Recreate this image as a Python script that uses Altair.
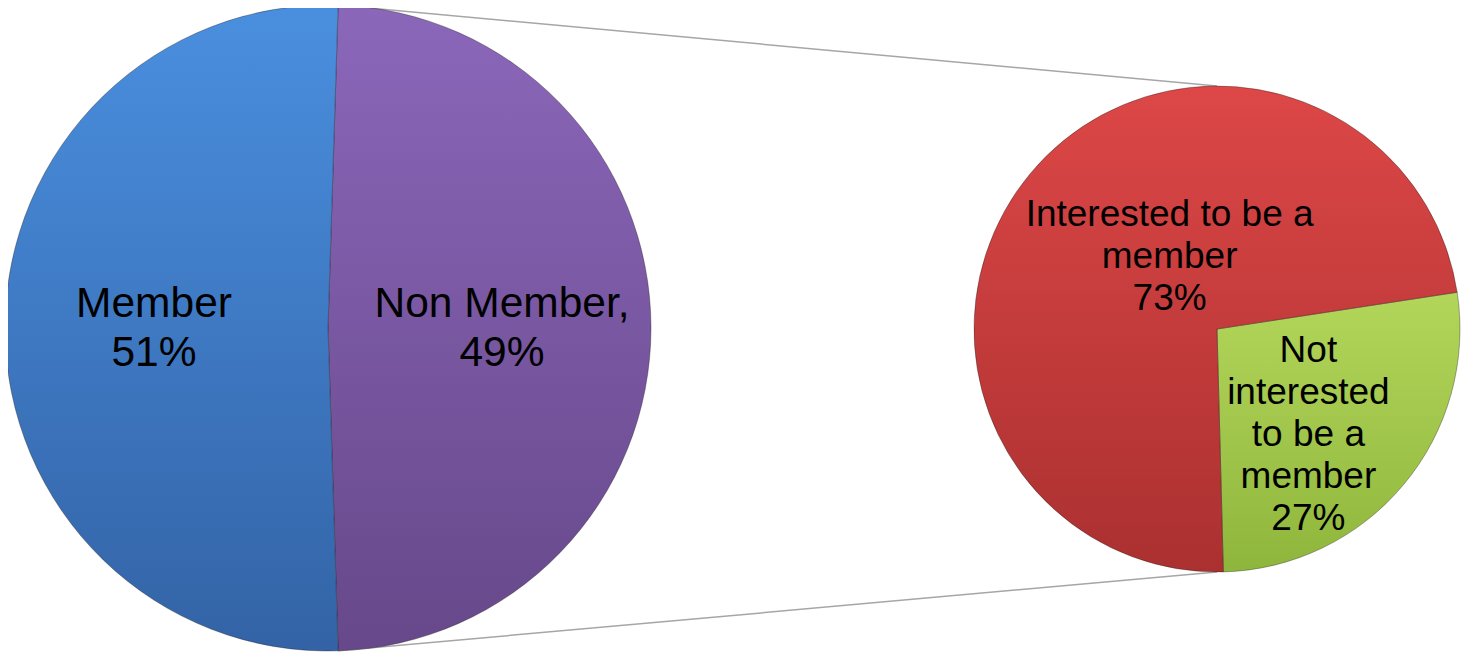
import math
import altair as alt
import pandas as pd

# ---------------- data ----------------
main_categories = ["Non Member", "Member"]
main_values = [49, 51]
main_labels = ["Non Member,\n49%", "Member\n51%"]

sub_categories = ["Not interested to be a member", "Interested to be a member"]
sub_values = [27, 73]
sub_labels = ["Not\ninterested\nto be a\nmember\n27%", "Interested to be a\nmember\n73%"]

# ---------------- layout ----------------
W, H = 1454, 648
L_CX, L_CY, L_R = 320, 320, 323
R_CX, R_CY, R_R = 1209, 321, 243
R_START_DEG = 81.3
FONT = "Liberation Sans"

main_df = pd.DataFrame({"cat": main_categories, "val": main_values,
                        "label": main_labels, "ord": list(range(len(main_values)))})
sub_df = pd.DataFrame({"cat": sub_categories, "val": sub_values,
                       "label": sub_labels, "ord": list(range(len(sub_values)))})

# split slice of the main pie is centred on 3 o'clock
split_share = main_values[0] / sum(main_values)
l_start_deg = 90 - split_share * 180
l_start = math.radians(l_start_deg)
r_start = math.radians(R_START_DEG)


def grad(c0, c1):
    return {"gradient": "linear", "x1": 0, "y1": 0, "x2": 0, "y2": 1,
            "stops": [{"offset": 0, "color": c0}, {"offset": 1, "color": c1}]}


gradients = {
    "Member": grad("#4a8fdf", "#3363a6"),
    "Non Member": grad("#8b67ba", "#67488a"),
    "Interested to be a member": grad("#dd4747", "#ab3030"),
    "Not interested to be a member": grad("#b2d65a", "#8fb63c"),
}

cats = list(gradients.keys())
fill_enc = alt.when(alt.datum.cat == cats[0]).then(alt.value(gradients[cats[0]]))
for c in cats[1:-1]:
    fill_enc = fill_enc.when(alt.datum.cat == c).then(alt.value(gradients[c]))
fill_enc = fill_enc.otherwise(alt.value(gradients[cats[-1]]))


def theta_enc(start):
    return alt.Theta("val:Q", stack=True,
                     scale=alt.Scale(range=[start, start + 2 * math.pi]))


def pie(df, cx, cy, r, start):
    return alt.Chart(df).mark_arc(
        outerRadius=r, stroke="#1a1a1a", strokeOpacity=0.35, strokeWidth=1
    ).encode(
        theta=theta_enc(start),
        order=alt.Order("ord:Q"),
        x=alt.value(cx), y=alt.value(cy),
        fill=fill_enc,
    )


def labels(df, cx, cy, start, radius, size, lh, nlines, only=None, dx=0, dy=0):
    ch = alt.Chart(df)
    if only is not None:
        ch = ch.transform_calculate(t=f"datum.cat == '{only}' ? datum.label : ''")
    else:
        ch = ch.transform_calculate(t="datum.label")
    # centre the multi-line block vertically on its anchor
    dy = dy - (nlines - 1) / 2 * lh
    return ch.mark_text(
        radius=radius, dx=dx, dy=dy, fontSize=size, lineBreak="\n", lineHeight=lh,
        font=FONT, align="center", baseline="middle", color="#000000"
    ).encode(
        theta=theta_enc(start),
        order=alt.Order("ord:Q"),
        x=alt.value(cx), y=alt.value(cy),
        text="t:N",
    )


# connector lines: from the split points of the main pie to top / bottom of the sub pie
a_top = l_start
a_bot = l_start + split_share * 2 * math.pi
conn_df = pd.DataFrame({
    "x": [L_CX + L_R * math.sin(a_top), L_CX + L_R * math.sin(a_bot)],
    "y": [L_CY - L_R * math.cos(a_top), L_CY - L_R * math.cos(a_bot)],
    "x2": [R_CX, R_CX],
    "y2": [R_CY - R_R, R_CY + R_R],
})
connectors = alt.Chart(conn_df).mark_rule(color="#a6a6a6", strokeWidth=1.5).encode(
    x=alt.X("x:Q", scale=None), y=alt.Y("y:Q", scale=None),
    x2="x2:Q", y2="y2:Q",
)

chart = alt.layer(
    connectors,
    pie(main_df, L_CX, L_CY, L_R, l_start),
    labels(main_df, L_CX, L_CY, l_start, 174, 42.5, 49, 2),
    pie(sub_df, R_CX, R_CY, R_R, r_start),
    labels(sub_df, R_CX, R_CY, r_start, 80, 37, 42, 3,
           only="Interested to be a member", dx=14, dy=-21),
    labels(sub_df, R_CX, R_CY, r_start, 140, 37, 42, 5,
           only="Not interested to be a member", dx=-16, dy=16),
).resolve_scale(theta="independent").properties(
    width=W, height=H, padding=0, autosize="none", background="white"
).configure_view(stroke=None)

chart.save("out.html", embed_options={"renderer": "svg", "actions": False})
